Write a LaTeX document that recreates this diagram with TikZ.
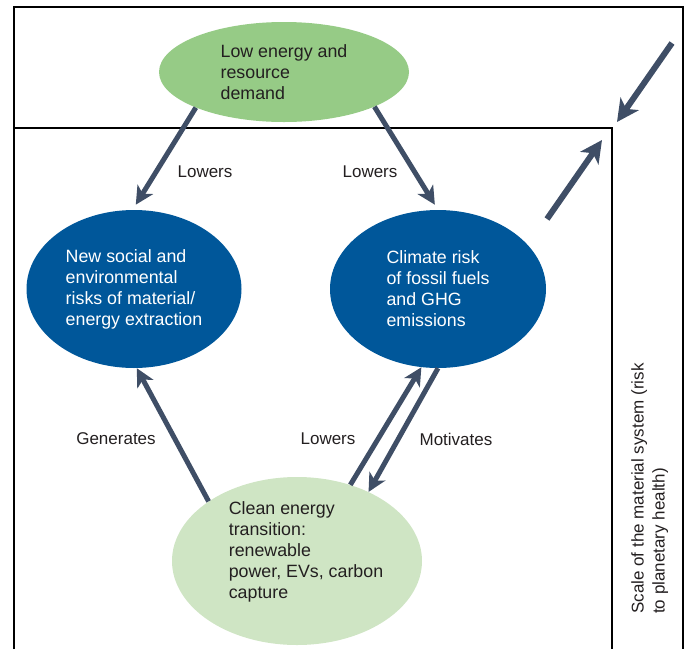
\documentclass[tikz,border=0pt]{standalone}
\usepackage{fontspec}
\setmainfont{Liberation Sans}
\usetikzlibrary{shapes.geometric,arrows.meta}
\definecolor{deepblue}{HTML}{00579A}
\definecolor{leafgreen}{HTML}{96CB86}
\definecolor{palegreen}{HTML}{CFE5C4}
\definecolor{slate}{HTML}{3F4E66}
\definecolor{ink}{HTML}{231F20}

\begin{document}
\begin{tikzpicture}
[   x=1pt,y=-1pt,
    enode/.style={ellipse,fill=#1,inner sep=0pt,align=left,font=\fontsize{17.8}{21}\selectfont},
    lab/.style={inner sep=0pt,text=ink,font=\fontsize{17}{21}\selectfont},
    arr/.style={draw=slate,line width=5pt,-{Stealth[length=18pt,width=18pt,inset=5pt]}},
    arrbig/.style={draw=slate,line width=6pt,-{Stealth[length=22pt,width=22pt,inset=6pt]}},
]
    \useasboundingbox (0,0) rectangle (686,649);
    %
    \draw[line width=1.2pt] (14,649) -- (14,7) -- (683,7) -- (683,649);
    \draw[line width=1.2pt] (14,128) -- (612,128) -- (612,649);

    \node[enode=leafgreen,text=ink,minimum width=250pt,minimum height=100pt] (low) at (284,72) {Low energy and\\resource\\demand};
    \node[enode=deepblue,text=white,minimum width=215pt,minimum height=158pt] (risk) at (134,289) {New social and\\environmental\\risks of material/\\energy extraction};
    \node[enode=deepblue,text=white,minimum width=216pt,minimum height=158pt] (climate) at (438,289) {Climate risk\\of fossil fuels\\and GHG\\emissions};
    \node[enode=palegreen,minimum width=250pt,minimum height=168pt] (clean) at (297,561) {};
    \node[lab,align=left,font=\fontsize{17.8}{21}\selectfont] (clean-txt) at (306,552) {Clean energy\\transition:\\renewable\\power, EVs, carbon\\capture};

    \draw[arr,shorten >=6pt] (low.-158.5) -- (risk.91);
    \draw[arr,shorten >=6pt] (low.-21.5) -- (climate.90.5);
    \draw[arr] (clean.146.5) -- (risk.-88);
    \draw[arr] (clean.55.8) -- (climate.-102.8);
    \draw[arr] (climate.-90) -- (clean.44.6);

    \coordinate (in-a) at (672,43);
    \coordinate (in-b) at (617,122);
    \coordinate (out-a) at (547,219);
    \coordinate (out-b) at (602,140);
    \draw[arrbig] (in-a) -- (in-b);
    \draw[arrbig] (out-a) -- (out-b);

    \foreach \n/\x/\y/\t in {1/205/172/Lowers, 2/370/172/Lowers, 3/116/439/Generates, 4/328/439/Lowers, 5/456/439/Motivates}
    {
        \node[lab] (lab-\n) at (\x,\y) {\t};
    }

    \node[lab,rotate=90,anchor=north west,align=left] (scale) at (631,614) {Scale of the material system (risk\\to planetary health)};
\end{tikzpicture}
\end{document}
